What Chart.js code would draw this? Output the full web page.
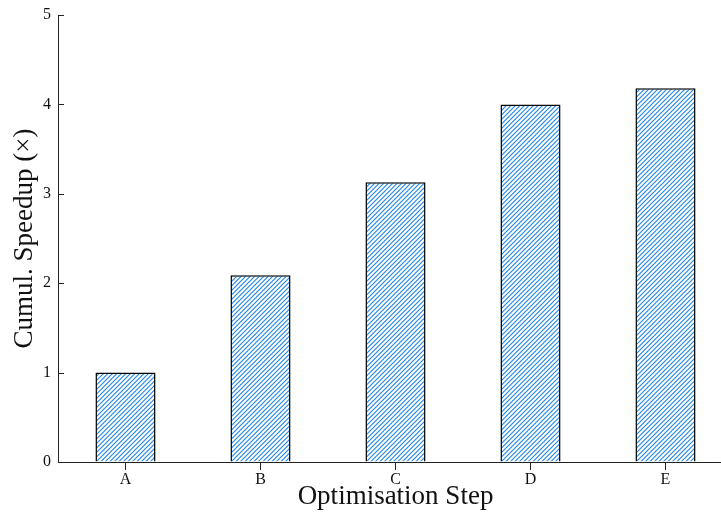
<!DOCTYPE html>
<html>
<head>
<meta charset="utf-8">
<script src="https://cdn.jsdelivr.net/npm/chart.js@4"></script>
<style>
  html, body { margin: 0; padding: 0; overflow: hidden; background: #fff; }
  #wrap { width: 740px; height: 513px; }
</style>
</head>
<body>
<div id="wrap"><canvas id="chart1" width="740" height="513"></canvas></div>
<script>
//Data
const steps = ['A', 'B', 'C', 'D', 'E'];
const speedup = [1.0, 2.09, 3.13, 4.0, 4.18];
const yTicks = [0, 1, 2, 3, 4, 5];

//Hatch pattern: "/" lines, two per 9px tile
function makeHatch(color) {
    const s = 9;
    const c = document.createElement('canvas');
    c.width = s;
    c.height = s;
    const g = c.getContext('2d');
    g.fillStyle = '#fff';
    g.fillRect(0, 0, s, s);
    g.strokeStyle = color;
    g.lineWidth = 1.1;
    g.beginPath();
    for (let k = -2; k <= 2; k++) {
        const o = k * s / 2;
        g.moveTo(o - 1, s + 1);
        g.lineTo(o + s + 1, -1);
    }
    g.stroke();
    return g.createPattern(c, 'repeat');
}

const serif = '"Liberation Serif", "DejaVu Serif", serif';

//Inward tick marks on the y axis
const innerTicks = {
    id: 'innerTicks',
    afterDraw(chart) {
        const y = chart.scales.y;
        const c = chart.ctx;
        c.save();
        c.strokeStyle = '#222';
        c.lineWidth = 1;
        y.ticks.forEach(t => {
            const py = Math.round(y.getPixelForValue(t.value)) + 0.5;
            c.beginPath();
            c.moveTo(y.right, py);
            c.lineTo(y.right + 6, py);
            c.stroke();
        });
        c.restore();
    }
};

const ctx = document.querySelector('#chart1');
const myChart1 = new Chart(ctx, {
    type: 'bar',
    data: {
        labels: steps,
        datasets: [{
            data: speedup,
            backgroundColor: makeHatch('#1f86e8'),
            borderColor: '#000',
            borderWidth: 1.5,
            categoryPercentage: 1,
            barPercentage: 0.445
        }]
    },
    options: {
        responsive: false,
        animation: false,
        layout: { padding: { top: 6, right: 7, left: 0, bottom: 0 } },
        plugins: {
            legend: { display: false },
            tooltip: { enabled: false }
        },
        scales: {
            x: {
                grid: {
                    drawOnChartArea: false,
                    offset: false,
                    tickLength: 8,
                    color: '#222'
                },
                border: { color: '#222', width: 1 },
                ticks: {
                    padding: 0,
                    color: '#111',
                    font: { family: serif, size: 16 }
                },
                title: {
                    display: true,
                    text: 'Optimisation Step',
                    color: '#111',
                    font: { family: serif, size: 27 },
                    padding: { top: 0, bottom: 0 }
                },
                afterFit: s => { s.height = 51; }
            },
            y: {
                min: 0,
                max: 5,
                afterBuildTicks: s => { s.ticks = yTicks.map(v => ({ value: v })); },
                grid: {
                    drawOnChartArea: false,
                    drawTicks: false
                },
                border: { color: '#222', width: 1 },
                ticks: {
                    padding: 7,
                    color: '#111',
                    font: { family: serif, size: 16, lineHeight: 1 }
                },
                title: {
                    display: true,
                    text: 'Cumul. Speedup (×)',
                    color: '#111',
                    font: { family: serif, size: 27 },
                    padding: { top: 9, bottom: 0 }
                },
                afterFit: s => { s.width = 58; }
            }
        }
    },
    plugins: [innerTicks]
});
</script>
</body>
</html>
